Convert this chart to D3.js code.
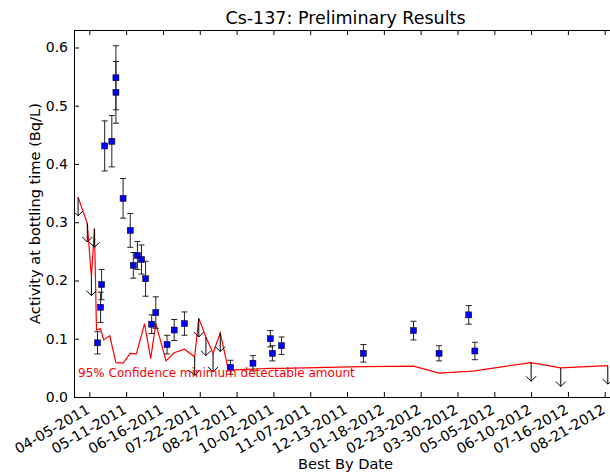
<!DOCTYPE html>
<html>
<head>
<meta charset="utf-8">
<script src="https://cdn.jsdelivr.net/npm/d3@7"></script>
<style>
  body { margin: 0; background: #fff; }
  svg { display: block; font-family: 'DejaVu Sans', sans-serif; }
</style>
</head>
<body>
<div id="chart"></div>
<script>
// detected samples (blue squares with error bars)
var detectDates = ['2011-04-13', '2011-04-16', '2011-04-17', '2011-04-20', '2011-04-27', '2011-05-01', '2011-05-01',
  '2011-05-08', '2011-05-15', '2011-05-18', '2011-05-22', '2011-05-26', '2011-05-30', '2011-06-05', '2011-06-09',
  '2011-06-20', '2011-06-27', '2011-07-07', '2011-08-21', '2011-09-12', '2011-09-29', '2011-10-01', '2011-10-10',
  '2011-12-29', '2012-02-16', '2012-03-12', '2012-04-10', '2012-04-16'];
var detectValues = [0.093, 0.154, 0.193, 0.431, 0.439, 0.548, 0.523,
  0.341, 0.286, 0.226, 0.243, 0.236, 0.203, 0.125, 0.145,
  0.090, 0.115, 0.126, 0.051, 0.058, 0.100, 0.075, 0.088,
  0.075, 0.114, 0.075, 0.141, 0.079];
var detectErrors = [0.019, 0.026, 0.026, 0.043, 0.044, 0.055, 0.053,
  0.034, 0.029, 0.022, 0.024, 0.025, 0.030, 0.016, 0.027,
  0.016, 0.018, 0.020, 0.012, 0.013, 0.014, 0.013, 0.015,
  0.015, 0.016, 0.013, 0.016, 0.015];

// non-detects: arrows down from the MDA
var limitDates = ['2011-03-25', '2011-04-03', '2011-04-07', '2011-04-10', '2011-07-17', '2011-07-21', '2011-07-28',
  '2011-08-04', '2011-08-11', '2012-06-10', '2012-07-09', '2012-08-24'];
var limitValues = [0.343, 0.298, 0.206, 0.289, 0.069, 0.135, 0.103,
  0.075, 0.110, 0.059, 0.050, 0.054];

// 95% minimum detectable amount for every sample
var mdaDates = ['2011-03-25', '2011-04-03', '2011-04-07', '2011-04-10', '2011-04-12', '2011-04-16', '2011-04-19',
  '2011-04-25', '2011-05-01', '2011-05-08', '2011-05-15', '2011-05-21', '2011-05-29', '2011-06-04', '2011-06-09',
  '2011-06-19', '2011-06-27', '2011-07-07', '2011-07-17', '2011-07-21', '2011-07-28', '2011-08-04', '2011-08-11',
  '2011-08-19', '2011-09-12', '2011-09-29', '2011-10-10', '2011-12-29', '2012-02-16', '2012-03-12', '2012-04-10',
  '2012-04-16', '2012-06-10', '2012-07-09', '2012-08-24'];
var mdaValues = [0.343, 0.298, 0.206, 0.289, 0.115, 0.117, 0.098,
  0.105, 0.059, 0.058, 0.075, 0.074, 0.126, 0.066, 0.126,
  0.062, 0.076, 0.082, 0.069, 0.135, 0.103, 0.075, 0.110,
  0.046, 0.048, 0.049, 0.049, 0.052, 0.053, 0.041, 0.044,
  0.045, 0.059, 0.050, 0.054];

var xTickLabels = ['04-05-2011', '05-11-2011', '06-16-2011', '07-22-2011', '08-27-2011', '10-02-2011', '11-07-2011',
  '12-13-2011', '01-18-2012', '02-23-2012', '03-30-2012', '05-05-2012', '06-10-2012', '07-16-2012', '08-21-2012'];
var yTicks = [0.0, 0.1, 0.2, 0.3, 0.4, 0.5, 0.6];

var width = 610, height = 475;
var plotLeft = 74, plotRight = 617, plotTop = 30, plotBottom = 397;
var arrowLen = 0.032;

var parseDate = d3.timeParse('%Y-%m-%d');
var parseTick = d3.timeParse('%m-%d-%Y');

var svg = d3.select('#chart').append('svg')
  .attr('width', width)
  .attr('height', height);

var x = d3.scaleTime()
  .domain([parseDate('2011-03-21'), parseDate('2012-09-02')])
  .range([plotLeft, plotRight]);

var y = d3.scaleLinear()
  .domain([0, 0.63])
  .range([plotBottom, plotTop]);

svg.append('clipPath').attr('id', 'plotClip')
  .append('rect')
  .attr('x', plotLeft).attr('y', plotTop)
  .attr('width', plotRight - plotLeft).attr('height', plotBottom - plotTop);

var plot = svg.append('g').attr('clip-path', 'url(#plotClip)');

// MDA line
var line = d3.line()
  .x(function(d) { return x(d.date); })
  .y(function(d) { return y(d.value); });

var mda = mdaDates.map(function(d, i) { return { date: parseDate(d), value: mdaValues[i] }; });

plot.append('path')
  .datum(mda)
  .attr('fill', 'none')
  .attr('stroke', '#ff0000')
  .attr('stroke-width', 1.2)
  .attr('d', line);

// upper limit arrows
var limits = limitDates.map(function(d, i) { return { date: parseDate(d), value: limitValues[i] }; });

var arrows = plot.selectAll('.arrow')
  .data(limits)
  .enter().append('g')
  .attr('class', 'arrow')
  .attr('fill', 'none')
  .attr('stroke', '#000')
  .attr('stroke-width', 1);

arrows.append('line')
  .attr('x1', function(d) { return x(d.date); })
  .attr('x2', function(d) { return x(d.date); })
  .attr('y1', function(d) { return y(d.value); })
  .attr('y2', function(d) { return y(d.value - arrowLen); });

arrows.append('path')
  .attr('d', function(d) {
    var cx = x(d.date), cy = y(d.value - arrowLen);
    return 'M' + (cx - 5) + ',' + (cy - 5) + 'L' + cx + ',' + cy + 'L' + (cx + 5) + ',' + (cy - 5);
  });

// detected points with error bars
var detects = detectDates.map(function(d, i) {
  return { date: parseDate(d), value: detectValues[i], err: detectErrors[i] };
});

var bars = plot.selectAll('.errbar')
  .data(detects)
  .enter().append('g')
  .attr('class', 'errbar')
  .attr('stroke', '#222')
  .attr('stroke-width', 1);

bars.append('line')
  .attr('x1', function(d) { return x(d.date); })
  .attr('x2', function(d) { return x(d.date); })
  .attr('y1', function(d) { return y(d.value - d.err); })
  .attr('y2', function(d) { return y(d.value + d.err); });

bars.append('line')
  .attr('x1', function(d) { return x(d.date) - 3; })
  .attr('x2', function(d) { return x(d.date) + 3; })
  .attr('y1', function(d) { return y(d.value + d.err); })
  .attr('y2', function(d) { return y(d.value + d.err); });

bars.append('line')
  .attr('x1', function(d) { return x(d.date) - 3; })
  .attr('x2', function(d) { return x(d.date) + 3; })
  .attr('y1', function(d) { return y(d.value - d.err); })
  .attr('y2', function(d) { return y(d.value - d.err); });

plot.selectAll('.pt')
  .data(detects)
  .enter().append('rect')
  .attr('class', 'pt')
  .attr('x', function(d) { return x(d.date) - 3; })
  .attr('y', function(d) { return y(d.value) - 3; })
  .attr('width', 6)
  .attr('height', 6)
  .attr('fill', '#0000ff')
  .attr('stroke', '#000')
  .attr('stroke-width', 0.5);

// text label for the MDA line
svg.append('text')
  .attr('x', x(parseDate('2011-03-25')))
  .attr('y', y(0.034))
  .attr('fill', '#ff0000')
  .attr('font-size', 12)
  .text('95% Confidence minimum detectable amount');

// axes, matplotlib classic style: ticks inward on all sides
var xTicks = xTickLabels.map(parseTick);

var xAxis = d3.axisBottom(x).tickValues(xTicks).tickSize(-5).tickFormat('');
var xAxisTop = d3.axisTop(x).tickValues(xTicks).tickSize(-5).tickFormat('');
var yAxis = d3.axisLeft(y).tickValues(yTicks).tickSize(-5).tickPadding(6).tickFormat(d3.format('.1f'));
var yAxisRight = d3.axisRight(y).tickValues(yTicks).tickSize(-5).tickFormat('');

svg.append('g').attr('transform', 'translate(0,' + plotBottom + ')').call(xAxis);
svg.append('g').attr('transform', 'translate(0,' + plotTop + ')').call(xAxisTop);
svg.append('g').attr('class', 'y axis').attr('transform', 'translate(' + plotLeft + ',0)').call(yAxis);
svg.append('g').attr('transform', 'translate(' + plotRight + ',0)').call(yAxisRight);

svg.selectAll('.domain').attr('stroke', '#000').attr('stroke-width', 1);
svg.selectAll('.tick line').attr('stroke', '#000');
svg.select('.y.axis').selectAll('text')
  .attr('font-size', 14)
  .attr('font-family', 'DejaVu Sans')
  .attr('fill', '#000');

svg.selectAll('.xlab')
  .data(xTicks)
  .enter().append('text')
  .attr('class', 'xlab')
  .attr('transform', function(d) { return 'translate(' + (x(d) - 4) + ',' + (plotBottom + 6) + ') rotate(-30)'; })
  .attr('text-anchor', 'end')
  .attr('dy', '0.76em')
  .attr('font-size', 14.4)
  .text(function(d, i) { return xTickLabels[i]; });

svg.append('text')
  .attr('x', (plotLeft + plotRight) / 2)
  .attr('y', 24)
  .attr('text-anchor', 'middle')
  .attr('font-size', 17.5)
  .text('Cs-137: Preliminary Results');

svg.append('text')
  .attr('x', (plotLeft + plotRight) / 2)
  .attr('y', 469)
  .attr('text-anchor', 'middle')
  .attr('font-size', 14.6)
  .text('Best By Date');

svg.append('text')
  .attr('transform', 'translate(40,' + ((plotTop + plotBottom) / 2) + ') rotate(-90)')
  .attr('text-anchor', 'middle')
  .attr('font-size', 14.6)
  .text('Activity at bottling time (Bq/L)');
</script>
</body>
</html>
